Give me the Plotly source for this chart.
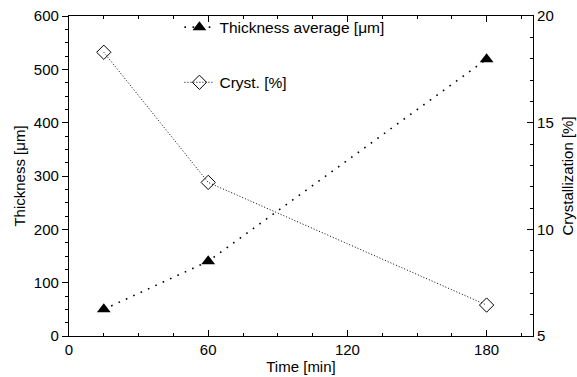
import plotly.graph_objects as go

time_min = [15, 60, 180]
thickness_um = [50, 140, 519]
cryst_pct = [18.3, 12.2, 6.45]

FONT = "Liberation Sans, Arial, sans-serif"
FS = 15

fig = go.Figure()
fig.add_trace(go.Scatter(
    x=time_min, y=thickness_um, name="Thickness average [μm]",
    mode="lines+markers", legendgroup="a",
    line=dict(color="black", width=1.6, dash="1.6px,6.5px"),
    marker=dict(symbol="triangle-up", size=12, color="black"),
))
fig.add_trace(go.Scatter(
    x=time_min, y=cryst_pct, name="Cryst. [%]", yaxis="y2",
    mode="lines+markers", legendgroup="b",
    line=dict(color="black", width=1, dash="1px,2px"),
    marker=dict(symbol="diamond-open", size=11, color="black", line=dict(width=1)),
))

fig.update_layout(
    width=577, height=377,
    margin=dict(l=69, r=44, t=16, b=41, autoexpand=False),
    paper_bgcolor="white", plot_bgcolor="white",
    font=dict(family=FONT, size=FS, color="black"),
    showlegend=True,
    legend=dict(x=0.238, y=1.017, xanchor="left", yanchor="top",
                bgcolor="rgba(0,0,0,0)", tracegroupgap=32,
                font=dict(size=15.5), itemwidth=30),
    xaxis=dict(range=[0, 200], tickvals=[0, 60, 120, 180], ticks="inside",
               ticklen=6, tickwidth=1, tickcolor="black",
               minor=dict(dtick=15, tick0=0, ticks="inside", ticklen=3, tickcolor="black"),
               showline=True, linecolor="black", linewidth=1.2, mirror="ticks",
               showgrid=False, zeroline=False, automargin=False,
               title=dict(text="Time [min]", standoff=2, font=dict(size=FS))),
    yaxis=dict(range=[0, 600], dtick=100, ticks="outside",
               ticklen=6, tickwidth=1, tickcolor="black",
               minor=dict(dtick=25, ticks="outside", ticklen=3, tickcolor="black"),
               showline=True, linecolor="black", linewidth=1.2,
               showgrid=False, zeroline=False, automargin=False,
               title=dict(text="Thickness [μm]", standoff=4, font=dict(size=FS))),
    yaxis2=dict(range=[5, 20], dtick=5, overlaying="y", side="right", ticks="inside",
                ticklen=6, tickwidth=1, tickcolor="black",
                minor=dict(dtick=1, ticks="inside", ticklen=3, tickcolor="black"),
                showline=True, linecolor="black", linewidth=1.2,
                showgrid=False, zeroline=False, automargin=False,
                title=dict(text="Crystallization [%]", standoff=9, font=dict(size=FS))),
)

fig.write_html("out.html", config={"displayModeBar": False},
               post_script="document.body.style.margin='0px';")
